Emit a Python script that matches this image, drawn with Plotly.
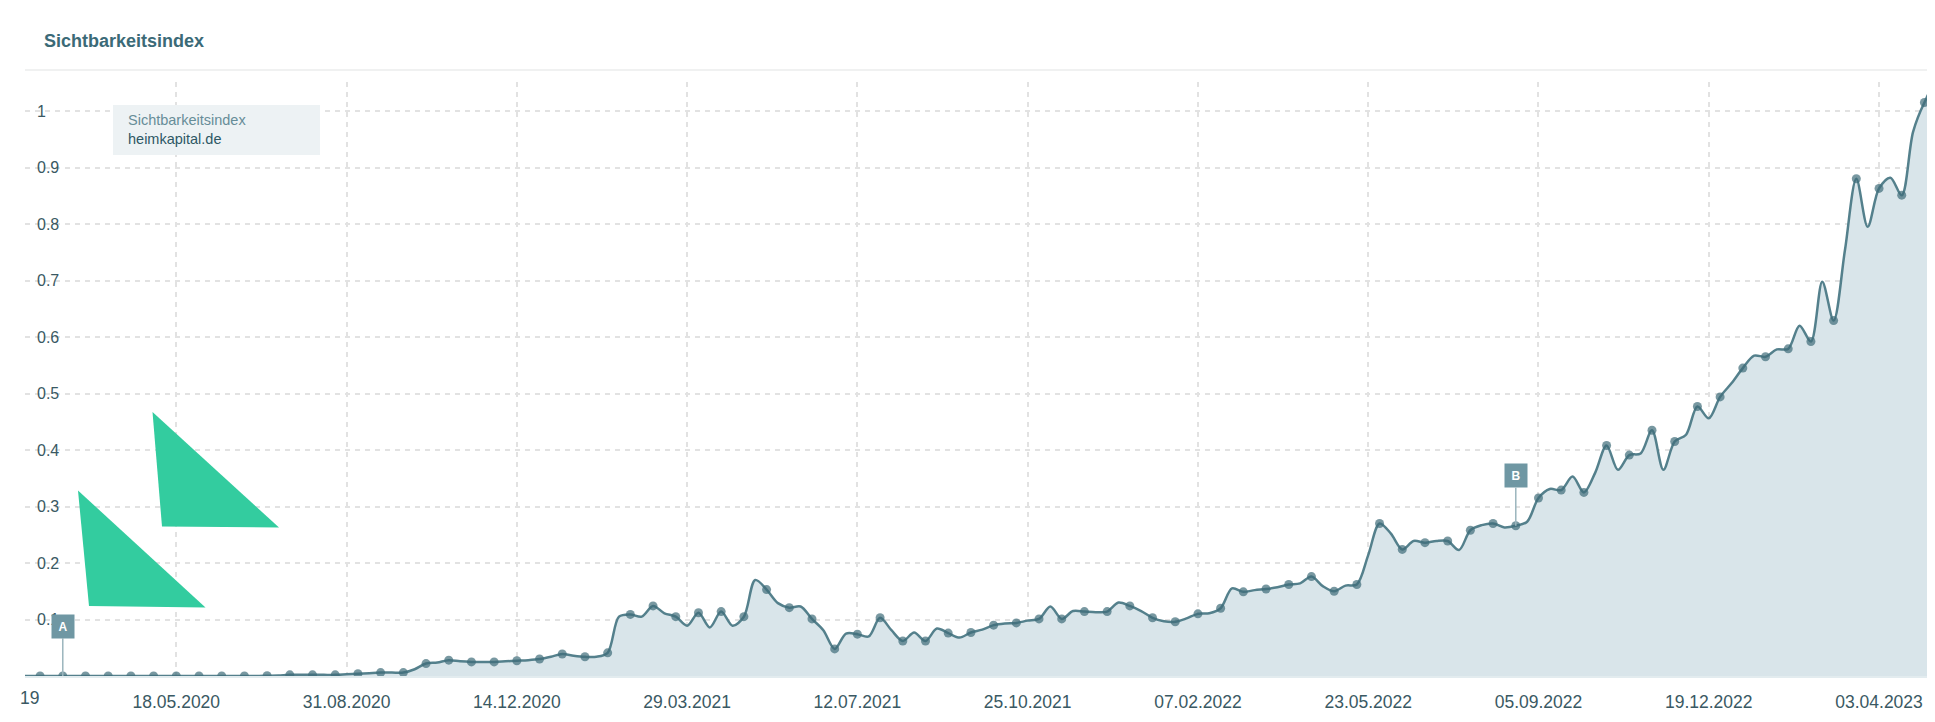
import plotly.graph_objects as go
import pandas as pd

# weekly Sichtbarkeitsindex values for heimkapital.de, starting Monday 10.02.2020
first_week = "2020-02-10"
sichtbarkeit = [
    0.000, 0.000, 0.000, 0.000, 0.000, 0.000, 0.000, 0.000, 0.000, 0.000,
    0.000, 0.000, 0.000, 0.000, 0.000, 0.000, 0.000, 0.000, 0.000, 0.000,
    0.000, 0.000, 0.0005, 0.001, 0.002, 0.002, 0.002, 0.002, 0.002, 0.003,
    0.004, 0.005, 0.006, 0.006, 0.006, 0.012, 0.022, 0.024, 0.028, 0.026,
    0.025, 0.025, 0.025, 0.026, 0.027, 0.028, 0.030, 0.034, 0.039, 0.036,
    0.034, 0.034, 0.041, 0.105, 0.109, 0.105, 0.124, 0.111, 0.105, 0.089,
    0.112, 0.086, 0.114, 0.089, 0.105, 0.170, 0.153, 0.129, 0.121, 0.123,
    0.101, 0.081, 0.048, 0.075, 0.074, 0.070, 0.103, 0.081, 0.062, 0.077,
    0.062, 0.084, 0.076, 0.068, 0.077, 0.082, 0.090, 0.093, 0.094, 0.098,
    0.101, 0.123, 0.101, 0.115, 0.114, 0.113, 0.114, 0.130, 0.124, 0.115,
    0.103, 0.097, 0.096, 0.102, 0.110, 0.111, 0.120, 0.155, 0.149, 0.152,
    0.154, 0.157, 0.162, 0.164, 0.176, 0.159, 0.150, 0.160, 0.162, 0.214,
    0.270, 0.252, 0.224, 0.239, 0.236, 0.239, 0.239, 0.223, 0.258, 0.267,
    0.270, 0.263, 0.266, 0.273, 0.315, 0.331, 0.329, 0.353, 0.325, 0.360,
    0.408, 0.365, 0.391, 0.394, 0.435, 0.365, 0.415, 0.427, 0.477, 0.456,
    0.494, 0.518, 0.545, 0.567, 0.565, 0.578, 0.579, 0.620, 0.592, 0.698,
    0.629, 0.754, 0.880, 0.795, 0.863, 0.882, 0.851, 0.963, 1.015, 1.049,
    1.035,
]
weeks = pd.date_range(first_week, periods=len(sichtbarkeit), freq="7D")

tick_dates = ["2020-02-03", "2020-05-18", "2020-08-31", "2020-12-14", "2021-03-29",
              "2021-07-12", "2021-10-25", "2022-02-07", "2022-05-23", "2022-09-05",
              "2022-12-19", "2023-04-03"]
y_ticks = [0.1, 0.2, 0.3, 0.4, 0.5, 0.6, 0.7, 0.8, 0.9, 1.0]
y_labels = ["0.1", "0.2", "0.3", "0.4", "0.5", "0.6", "0.7", "0.8", "0.9", "1"]

# event markers
events = [("A", "2020-03-09"), ("B", "2022-08-22")]

# plot area in pixels
L, R, T, B = 17, 1932, 74, 668
W, H = 1935, 722


def px(x):
    return (x - L) / (R - L)


def py(y):
    return (B - y) / (B - T)


marker_sizes = [9 if i % 2 == 0 else 0 for i in range(len(sichtbarkeit))]

fig = go.Figure()
fig.add_trace(go.Scatter(
    x=weeks, y=sichtbarkeit,
    mode="lines+markers",
    line=dict(color="#54808c", width=2.5, shape="spline", smoothing=0.9),
    marker=dict(size=marker_sizes, color="#3e6c79", line=dict(width=0)),
    fill="tozeroy", fillcolor="#d9e5ea",
    hoverinfo="skip",
))

grid = "#e2e2e2"
fig.update_layout(
    width=W, height=H,
    margin=dict(l=L, r=W - R, t=T, b=H - B),
    paper_bgcolor="white", plot_bgcolor="white",
    showlegend=False,
    font=dict(family="Liberation Sans, Arial, sans-serif", color="#3e5c66"),
    xaxis=dict(
        type="date",
        range=["2020-02-14 16:48", "2023-05-10 14:24"],
        tickvals=tick_dates, tickformat="%d.%m.%Y",
        tickfont=dict(size=17.5, color="#3a5963"),
        ticks="", ticklabelstandoff=9,
        showgrid=True, gridcolor=grid, griddash="5px,5px", gridwidth=1.5,
        showline=True, linecolor="#e3ecef", linewidth=2,
        zeroline=False, fixedrange=True,
    ),
    yaxis=dict(
        range=[0, (B - T) / 565],
        tickvals=y_ticks, ticktext=y_labels,
        ticklabelposition="inside", ticklabelstandoff=9,
        tickfont=dict(size=16, color="#3a5963"),
        ticks="",
        showgrid=True, gridcolor=grid, griddash="5px,5px", gridwidth=1.5,
        zeroline=False, showline=False, fixedrange=True,
    ),
)

shapes = [
    # header separator
    dict(type="line", xref="paper", yref="paper",
         x0=px(17), x1=px(1935), y0=py(62), y1=py(62),
         line=dict(color="#f0f1f1", width=2)),
    # legend box
    dict(type="rect", xref="paper", yref="paper",
         x0=px(105), x1=px(312), y0=py(97), y1=py(147),
         fillcolor="#edf2f4", line=dict(width=0), layer="above"),
    # green decorative triangles
    dict(type="path", xref="paper", yref="paper",
         path=f"M {px(144.5)},{py(404)} L {px(154)},{py(518.5)} L {px(271)},{py(519.5)} Z",
         fillcolor="#33cc9f", line=dict(width=0), layer="above"),
    dict(type="path", xref="paper", yref="paper",
         path=f"M {px(70)},{py(482.5)} L {px(81)},{py(598)} L {px(197.5)},{py(599.5)} Z",
         fillcolor="#33cc9f", line=dict(width=0), layer="above"),
]
fig.update_layout(shapes=shapes)

value_at = dict(zip(weeks.strftime("%Y-%m-%d"), sichtbarkeit))

annotations = [
    dict(text="<b>Sichtbarkeitsindex</b>", xref="paper", yref="paper",
         x=px(34), y=py(33), xanchor="left", yanchor="middle", showarrow=False,
         font=dict(size=18, color="#3b6a77")),
    dict(text="<span style='color:#678d98'>Sichtbarkeitsindex</span><br>"
              "<span style='color:#2e5865'>heimkapital.de</span>",
         xref="paper", yref="paper", x=px(118), y=py(122),
         xanchor="left", yanchor="middle", align="left", showarrow=False,
         font=dict(size=14.5)),
    dict(text="19", xref="paper", yref="paper", x=px(33), y=py(690),
         xanchor="right", yanchor="middle", showarrow=False,
         font=dict(size=17.5, color="#3a5963")),
]
for label, day in events:
    annotations.append(dict(
        text=f"<b>{label}</b>", x=day, y=value_at[day], xref="x", yref="y",
        showarrow=True, arrowhead=0, arrowwidth=1.5, arrowcolor="#9cb6be",
        ax=0, ay=-50, bgcolor="#6f97a3", borderpad=4, width=14, height=15,
        font=dict(size=12, color="white"),
    ))
fig.update_layout(annotations=annotations)

fig.write_html("out.html")
